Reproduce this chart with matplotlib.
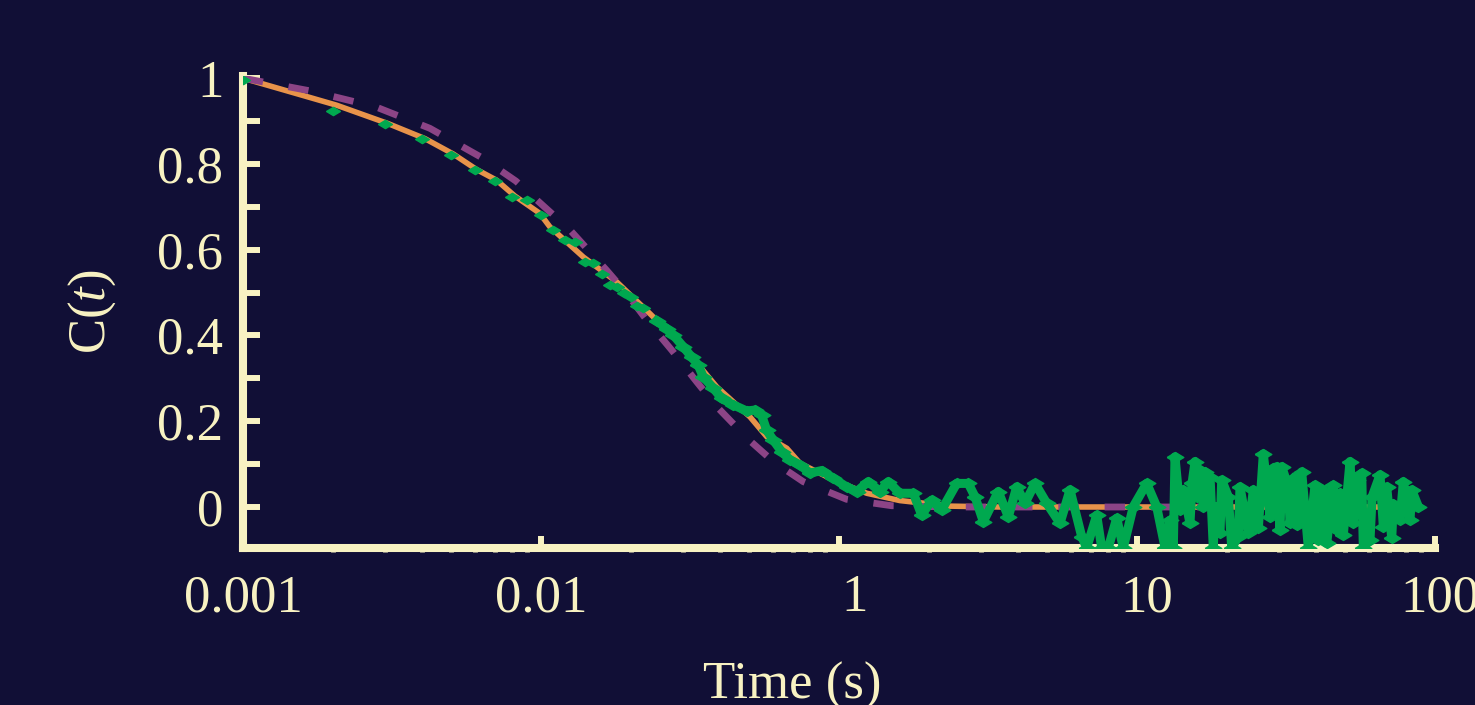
import matplotlib
matplotlib.use("Agg")
import matplotlib.pyplot as plt
import matplotlib.transforms as mtransforms
from matplotlib.ticker import FixedLocator, NullFormatter, LogLocator

# Fitted correlation curve (solid)
fit_t = [0.001, 0.00206, 0.00307, 0.00408, 0.00508, 0.00608, 0.0071, 0.00818, 0.0099,
         0.01072, 0.01387, 0.01795, 0.0232, 0.0300, 0.0389, 0.0503, 0.0572, 0.0668,
         0.0740, 0.0957, 0.124, 0.160, 0.236, 0.347, 1.0, 8.9]
fit_c = [1.0, 0.937, 0.894, 0.859, 0.823, 0.787, 0.762, 0.725, 0.685,
         0.653, 0.583, 0.525, 0.451, 0.374, 0.280, 0.210, 0.164, 0.137,
         0.102, 0.063, 0.032, 0.015, 0.002, 0.0, 0.0, 0.0]

# Single exponential model (dashed)
model_t = [0.001, 0.00169, 0.00279, 0.00424, 0.00632, 0.00824, 0.01251, 0.01661,
           0.01939, 0.02263, 0.02745, 0.0333, 0.0389, 0.0496, 0.0602, 0.0759,
           0.106, 0.150, 0.236, 1.0, 8.9]
model_c = [1.0, 0.970, 0.933, 0.883, 0.815, 0.760, 0.646, 0.552,
           0.498, 0.436, 0.366, 0.292, 0.234, 0.158, 0.106, 0.059,
           0.018, 0.003, 0.0, 0.0, 0.0]

# Measured autocorrelation, early samples (every 1 ms)
data_early_t = [0.001, 0.002, 0.003, 0.004, 0.005, 0.006, 0.007, 0.008, 0.009, 0.010,
                0.011, 0.012, 0.013, 0.014, 0.015, 0.016, 0.017, 0.018, 0.019, 0.020,
                0.021, 0.022]
data_early_c = [0.995, 0.923, 0.894, 0.857, 0.820, 0.786, 0.761, 0.723, 0.717, 0.680,
                0.646, 0.622, 0.618, 0.572, 0.568, 0.543, 0.517, 0.512, 0.500, 0.489,
                0.469, 0.463]

# Measured autocorrelation, dense part
data_t = [0.02445, 0.0264, 0.0278, 0.0300, 0.0320, 0.0337, 0.0350, 0.0379, 0.0404,
          0.0442, 0.0490, 0.0523, 0.0550, 0.0572, 0.0602, 0.0642, 0.0685, 0.0740,
          0.0799, 0.0875, 0.0957, 0.106, 0.1147, 0.1254, 0.1373, 0.1464, 0.160,
          0.1776, 0.1895, 0.2047, 0.2211, 0.2483, 0.2716, 0.2860, 0.3050, 0.3424,
          0.3700, 0.3948, 0.4209, 0.4547, 0.4977, 0.5516, 0.5959, 0.6523, 0.6779,
          0.7324, 0.7612, 0.8011, 0.8548, 0.8995, 0.9718, 1.078, 1.164, 1.242,
          1.290, 1.324, 1.341, 1.394, 1.430, 1.506, 1.53, 1.566, 1.586, 1.627,
          1.669, 1.691, 1.758, 1.803, 1.827, 1.899, 1.924, 2.025, 2.079, 2.187,
          2.216, 2.363, 2.456, 2.553, 2.654, 2.795, 2.87, 2.943, 3.019, 3.059,
          3.219, 3.262, 3.390, 3.435, 3.570, 3.757, 3.957, 4.059, 4.219, 4.331,
          4.558, 4.679, 4.800, 4.923, 5.185, 5.319, 5.461, 5.676, 5.746, 6.052,
          6.15, 6.538, 6.707, 6.885, 7.157, 7.245, 7.631, 7.828, 8.244, 8.35, 8.79]
data_c = [0.434, 0.416, 0.401, 0.374, 0.350, 0.331, 0.304, 0.277, 0.253,
          0.238, 0.224, 0.226, 0.214, 0.179, 0.156, 0.129, 0.110, 0.098,
          0.079, 0.085, 0.067, 0.047, 0.036, 0.059, 0.036, 0.059, 0.032,
          0.032, -0.019, 0.016, -0.007, 0.055, 0.055, 0.024, -0.034, 0.036,
          -0.023, 0.047, 0.009, 0.055, 0.009, -0.038, 0.040, -0.069, -0.095,
          -0.019, -0.095, -0.095, -0.026, -0.095, 0.001, 0.055, 0.001, -0.095,
          -0.031, -0.095, 0.117, -0.007, 0.040, -0.038, 0.055, 0.106, 0.024, 0.086,
          0.001, 0.082, 0.071, -0.095, 0.001, -0.061, 0.063, 0.024, -0.095, -0.069,
          0.047, -0.061, 0.040, -0.050, 0.124, -0.023, 0.090, 0.094, -0.054, 0.094,
          0.047, -0.038, 0.071, -0.042, 0.082, -0.095, 0.051, -0.077, 0.040, -0.085,
          0.051, -0.054, 0.032, -0.065, 0.106, -0.038, 0.063, 0.079, -0.095, -0.077,
          0.024, 0.075, -0.046, 0.047, -0.073, 0.007, -0.031, 0.059, -0.031, 0.040, 0.001]

x_ticks = [0.001, 0.01, 0.1, 1, 10]
x_labels = ["0.001", "0.01", "1", "10", "100"]
y_ticks = [0, 0.2, 0.4, 0.6, 0.8, 1]
y_labels = ["0", "0.2", "0.4", "0.6", "0.8", "1"]

BG = "#110F36"
CREAM = "#F8F2C2"
ORANGE = "#E8934A"
PURPLE = "#8C4486"
GREEN = "#00A84F"

plt.rcParams["font.family"] = ["Liberation Serif", "DejaVu Serif"]
plt.rcParams["mathtext.fontset"] = "custom"
plt.rcParams["mathtext.it"] = "Liberation Serif:italic"
plt.rcParams["mathtext.rm"] = "Liberation Serif"

fig = plt.figure(figsize=(14.75, 7.05), dpi=100, facecolor=BG)
ax = fig.add_axes([0.1647, 0.2227, 0.8082, 0.6695], facecolor=BG)

ax.plot(fit_t, fit_c, color=ORANGE, lw=4.0, solid_capstyle="butt", zorder=3)
ax.plot(model_t, model_c, color=PURPLE, lw=4.9, dashes=(3.0, 3.8), zorder=4)

# flat diamond marker like the original
diamond = [(-1, 0), (0, 0.6), (1, 0), (0, -0.6), (-1, 0)]
ax.plot(data_early_t, data_early_c, ls="none", marker=diamond, ms=10,
        color=GREEN, mec=GREEN, zorder=5)
ax.plot(data_t, data_c, color=GREEN, lw=6.5, marker=diamond, ms=12,
        mec=GREEN, solid_joinstyle="round", zorder=5)

ax.set_xscale("log")
ax.set_xlim(1e-3, 10)
ax.set_ylim(-0.0956, 1.005)

for side in ["top", "right"]:
    ax.spines[side].set_visible(False)
for side in ["left", "bottom"]:
    ax.spines[side].set_color(CREAM)
    ax.spines[side].set_linewidth(5.8)
    ax.spines[side].set_capstyle("projecting")

ax.xaxis.set_major_locator(FixedLocator(x_ticks))
ax.set_xticklabels(x_labels)
ax.xaxis.set_minor_locator(LogLocator(base=10, subs=range(2, 10)))
ax.xaxis.set_minor_formatter(NullFormatter())
ax.set_yticks(y_ticks)
ax.set_yticklabels(y_labels)
ax.yaxis.set_minor_locator(FixedLocator([0.1, 0.3, 0.5, 0.7, 0.9]))

ax.tick_params(axis="x", which="major", direction="in", length=9, width=4.3,
               color=CREAM, labelcolor=CREAM, labelsize=38, pad=19)
ax.tick_params(axis="x", which="minor", direction="out", length=3, width=3.5,
               color=CREAM)
ax.tick_params(axis="y", which="both", direction="in", length=12, width=4.3,
               color=CREAM, labelcolor=CREAM, labelsize=38, pad=14)

# nudge some x tick labels to where the original draws them
shifts = [0, 0, 16, 10, 5]
for lab, dx in zip(ax.get_xticklabels(), shifts):
    off = mtransforms.ScaledTranslation(dx / 100, 0, fig.dpi_scale_trans)
    lab.set_transform(lab.get_transform() + off)

ax.set_xlabel("Time (s)", color=CREAM, fontsize=38)
ax.set_ylabel("C(" + r"$\mathit{t}$" + ")", color=CREAM, fontsize=38)
ax.xaxis.set_label_coords(0.4606, -0.242)
ax.yaxis.set_label_coords(-0.105, 0.5)

fig.savefig("out.png", dpi=100, facecolor=BG)
